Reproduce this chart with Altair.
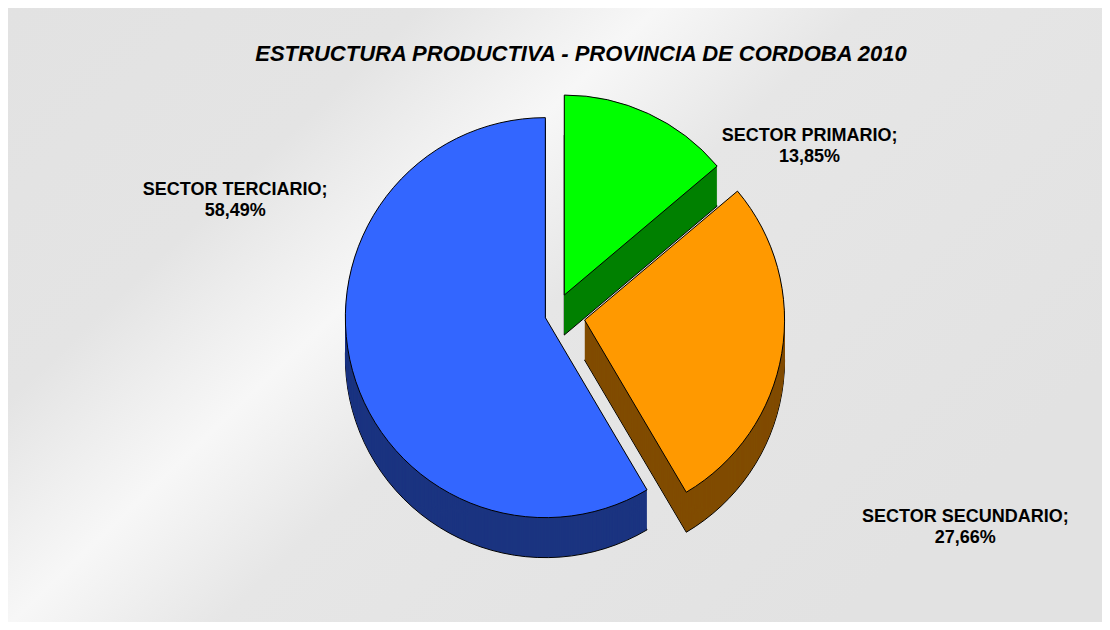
import math
import altair as alt
import pandas as pd

# ---- data ----
sectores = ["SECTOR PRIMARIO", "SECTOR SECUNDARIO", "SECTOR TERCIARIO"]
porcentajes = [13.85, 27.66, 58.49]
etiquetas = ["13,85%", "27,66%", "58,49%"]
titulo = "ESTRUCTURA PRODUCTIVA - PROVINCIA DE CORDOBA 2010"

# ---- styles ----
colores_sup = ["#00ff00", "#ff9900", "#3366ff"]
colores_lat = ["#008000", "#804c00", "#1b3480"]
explosion = [22, 30, 10]
label_off = [(145, 57), (154, 158), (-69, -194)]

W, H = 1094, 614
R = 200
D = 40
FONT = "Liberation Sans"

df = pd.DataFrame({
    "sector": sectores,
    "valor": porcentajes,
    "orden": list(range(len(sectores))),
    "etiqueta": [f"{s};\n{e}" for s, e in zip(sectores, etiquetas)],
})

total = sum(porcentajes)
theta_scale = alt.Scale(domain=[0, total], range=[0, 2 * math.pi])

# explosion direction of each slice from its mid angle
offsets = []
acc = 0.0
for v, e in zip(porcentajes, explosion):
    mid = (acc + v / 2) / total * 2 * math.pi
    acc += v
    offsets.append((e * math.sin(mid), -e * math.cos(mid)))

gradient = alt.LinearGradient(
    gradient="linear",
    x1=0, y1=0, x2=1, y2=0.59,
    stops=[
        alt.GradientStop(color="#e2e2e2", offset=0),
        alt.GradientStop(color="#e4e4e4", offset=0.28),
        alt.GradientStop(color="#f7f7f7", offset=0.44),
        alt.GradientStop(color="#e6e6e6", offset=0.58),
        alt.GradientStop(color="#e2e2e2", offset=1),
    ],
)

background = alt.Chart().mark_rect(fill=gradient).encode(
    x=alt.value(0), x2=alt.value(W), y=alt.value(0), y2=alt.value(H)
)

def arc_encoding():
    return dict(
        theta=alt.Theta("inicio:Q", scale=theta_scale, stack=None),
        theta2=alt.Theta2("fin:Q"),
    )

layers = [background]

# sides (extrusion) drawn first, deepest first
for i in range(len(sectores)):
    ox, oy = offsets[i]
    for k in range(D, 0, -1):
        if k == D:
            mk = alt.Chart().mark_arc(
                radius=R, xOffset=ox, yOffset=oy + k,
                fill=colores_lat[i], stroke="black", strokeWidth=1,
            )
        else:
            mk = alt.Chart().mark_arc(
                radius=R, xOffset=ox, yOffset=oy + k,
                fill=colores_lat[i], strokeWidth=0,
            )
        layers.append(
            mk.encode(**arc_encoding()).transform_filter(alt.datum.orden == i)
        )

# top faces
for i in range(len(sectores)):
    ox, oy = offsets[i]
    layers.append(
        alt.Chart().mark_arc(
            radius=R, xOffset=ox, yOffset=oy,
            fill=colores_sup[i], stroke="black", strokeWidth=1,
        ).encode(**arc_encoding()).transform_filter(alt.datum.orden == i)
    )

# labels
for i in range(len(sectores)):
    dx, dy = label_off[i]
    layers.append(
        alt.Chart().mark_text(
            radius=260, dx=dx, dy=dy, lineBreak="\n", font=FONT,
            fontSize=18, fontWeight="bold", lineHeight=21, color="black",
            align="center", baseline="middle",
        ).encode(
            theta=alt.Theta("medio:Q", scale=theta_scale, stack=None),
            text="etiqueta:N",
        ).transform_filter(alt.datum.orden == i)
    )

chart = alt.layer(*layers, data=df).transform_window(
    acum="sum(valor)", sort=[alt.SortField("orden")], frame=[None, 0]
).transform_calculate(
    inicio="datum.acum - datum.valor",
    fin="datum.acum",
    medio="datum.acum - datum.valor / 2",
).properties(
    width=W,
    height=H,
    autosize=alt.AutoSizeParams(type="none"),
    padding=0,
    background="white",
    title=alt.TitleParams(
        text=titulo, font=FONT, fontSize=22, fontStyle="italic",
        fontWeight="bold", color="black", anchor="middle", frame="group",
        offset=-75, baseline="alphabetic", dx=26,
    ),
).configure_view(strokeWidth=0)

chart.save("out.html", embed_options={"renderer": "svg", "actions": False})
